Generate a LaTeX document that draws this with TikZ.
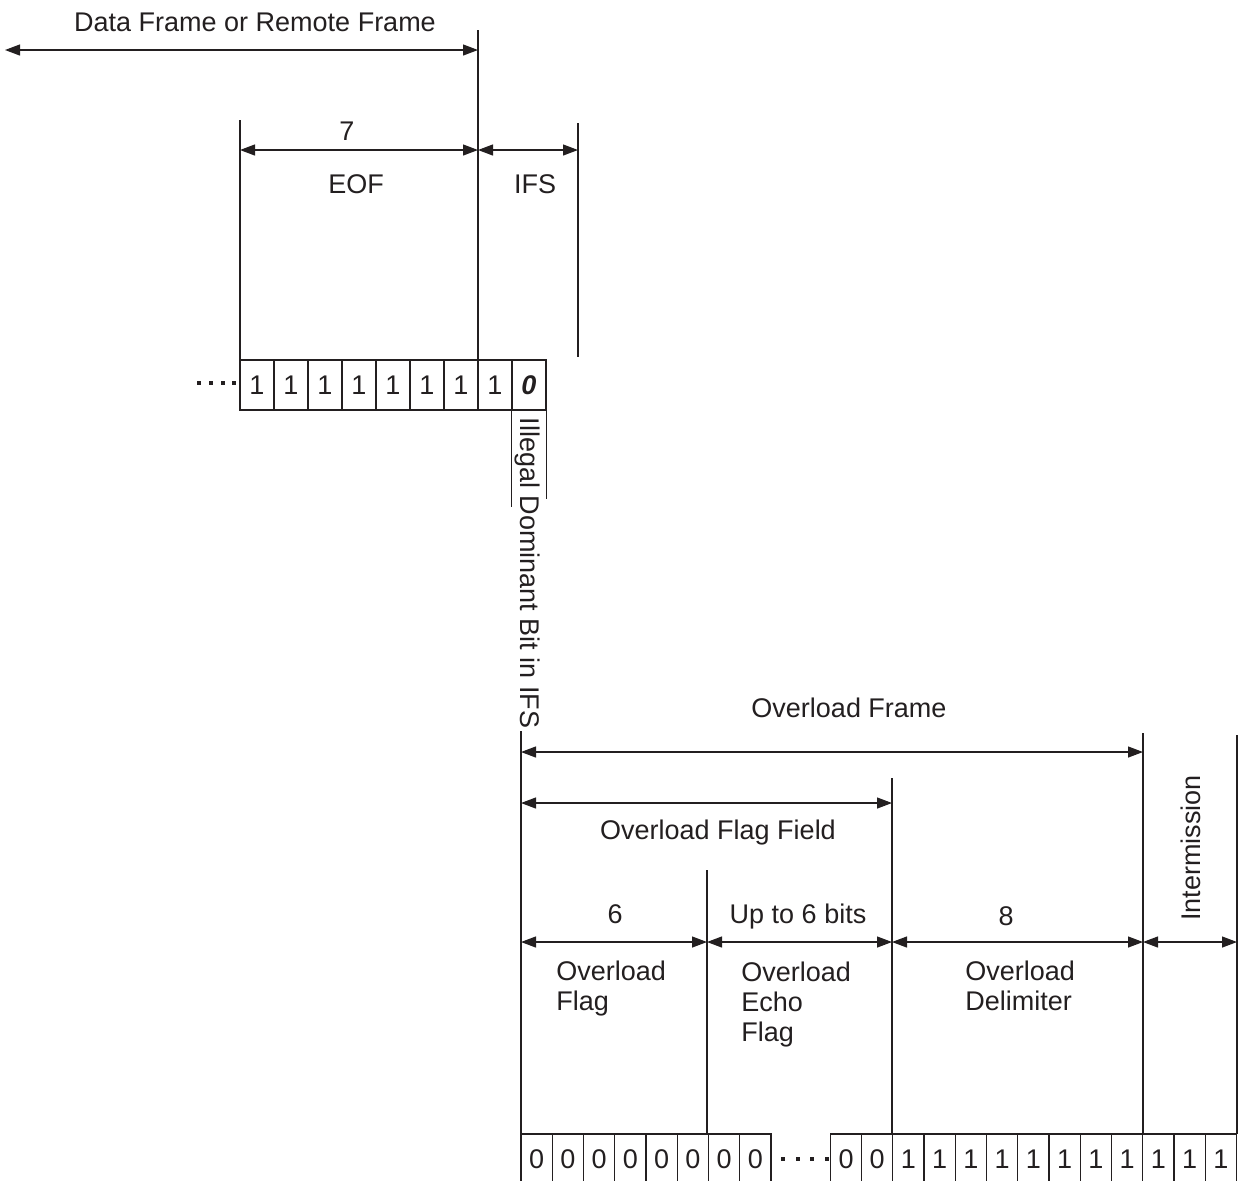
\documentclass[tikz,border=0pt]{standalone}
\usepackage{fontspec}
\setmainfont{Liberation Sans}
\usetikzlibrary{arrows.meta}
\definecolor{ink}{RGB}{35,31,32}

\begin{document}
\begin{tikzpicture}[x=0.5pt,y=-0.5pt,
  every node/.style={font=\fontsize{13.5}{15}\selectfont,text=ink,inner sep=0pt},
  wall/.style={draw=ink,line width=0.75pt},
  dim/.style={draw=ink,line width=0.6pt,
    {Triangle[length=7.5pt,width=5.5pt]}-{Triangle[length=7.5pt,width=5.5pt]}},
  bit/.style={draw=ink,line width=0.65pt,minimum height=25pt},
  topbit/.style={bit,minimum width=17pt},
  lowbit/.style={bit,minimum width=15.625pt}]
  \useasboundingbox (0,0) rectangle (1241,1180);

  \node[anchor=base] (dfrm) at (255,31) {Data Frame or Remote Frame};
  \draw[dim] (5,50) -- (478,50);
  \draw[wall] (478,30) -- (478,360);
  \draw[wall] (240,120) -- (240,360);
  \draw[wall] (578,123) -- (578,357);
  \draw[dim] (240,150) -- (478,150);
  \draw[dim] (478,150) -- (578,150);
  \node[anchor=base] (seven) at (347,140) {7};
  \node[anchor=base] (eof) at (356,193) {EOF};
  \node[anchor=base] (ifs) at (535,193) {IFS};

  \foreach \i in {0,...,7}
    \node[topbit] (e\i) at (257+34*\i,385) {1};
  \node[topbit] (e8) at (529,385) {\textbf{\textit{0}}};
  \foreach \x in {199,211,223,234}
    \fill[ink] (\x-2,381) rectangle (\x+2,385);
  \draw[wall] (e8.south west) -- ++(0,96);
  \draw[wall] (e8.south east) -- ++(0,88);
  \node[anchor=base,rotate=-90] (idb) at (520,573) {Illegal Dominant Bit in IFS};

  \draw[wall] (521,731) -- (521,1134);
  \draw[wall] (707,870) -- (707,1134);
  \draw[wall] (892,778) -- (892,1134);
  \draw[wall] (1143,733) -- (1143,1134);
  \draw[wall] (1237,735) -- (1237,1134);
  \node[anchor=base] (ofrm) at (849,717) {Overload Frame};
  \draw[dim] (521,752) -- (1143,752);
  \node[anchor=base] (offld) at (718,839) {Overload Flag Field};
  \draw[dim] (521,803) -- (892,803);
  \draw[dim] (521,942) -- (707,942);
  \draw[dim] (707,942) -- (892,942);
  \draw[dim] (892,942) -- (1143,942);
  \draw[dim] (1143,942) -- (1237,942);
  \node[anchor=base] (six) at (615,923) {6};
  \node[anchor=base] (upto) at (798,923) {Up to 6 bits};
  \node[anchor=base] (eight) at (1006,925) {8};
  \node[anchor=base,rotate=90] (imis) at (1200,848) {Intermission};
  \node[anchor=north west,align=left] (oflag) at (556,961) {Overload\\Flag};
  \node[anchor=north west,align=left] (oecho) at (741,962) {Overload\\Echo\\Flag};
  \node[anchor=north west,align=left] (odelim) at (965,961) {Overload\\Delimiter};

  \foreach \i in {0,...,7}
    \node[lowbit] (z\i) at (536.6+31.25*\i,1159) {0};
  \node[lowbit] (z8) at (846,1159) {0};
  \node[lowbit] (z9) at (877.2,1159) {0};
  \foreach \i in {0,...,10}
    \node[lowbit] (o\i) at (908.4+31.25*\i,1159) {1};
  \foreach \x in {783,797.5,812,826.5}
    \fill[ink] (\x-2,1157) rectangle (\x+2,1161);
\end{tikzpicture}
\end{document}
